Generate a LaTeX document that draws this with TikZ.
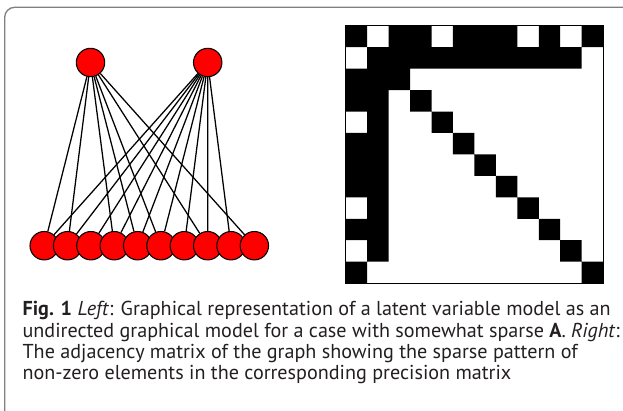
\documentclass[tikz,border=0pt]{standalone}
\usepackage{fontspec}
\setmainfont{PT Sans}
\usetikzlibrary{backgrounds}
\definecolor{frame}{RGB}{128,128,128}
\definecolor{captext}{RGB}{35,31,32}
\begin{document}
\begin{tikzpicture}[x=0.75pt,y=-0.75pt,
  vnode/.style={circle,draw=black,fill=red,line width=0.8pt,minimum size=21.3pt,inner sep=0pt},
  edge/.style={line width=0.95pt,black},
  capline/.style={anchor=base west,inner sep=0pt,text=captext,font=\fontsize{15.1}{16}\selectfont}]
\useasboundingbox (0,0) rectangle (623,410);
\clip (0,0) rectangle (623,410);
\draw[frame,line width=1pt,rounded corners=7.5pt] (4.7,7.3) rectangle (640,430);
% graph
\node[vnode] (t1) at (90.5,62.5) {};
\node[vnode] (t2) at (207.7,62.5) {};
\foreach \i in {1,...,10} \node[vnode] (b\i) at ({44.2+23.35*(\i-1)},245.7) {};
\begin{scope}[on background layer]
\foreach \i in {1,2,4,5,6,8,10} \draw[edge] (t1) -- (b\i);
\foreach \i in {1,...,9} \draw[edge] (t2) -- (b\i);
\end{scope}
% adjacency matrix
\def\cs{21.45}
\begin{scope}[shift={(345.7,25.7)}]
\fill[black]
  \foreach \c/\r/\w/\h in {0/0/1/1, 2/0/2/1, 5/0/3/1, 9/0/1/1, 11/0/1/1,
                           1/1/10/1,
                           0/2/1/2, 0/5/1/3, 0/9/1/1, 0/11/1/1,
                           1/2/1/9,
                           2/2/1/1, 3/3/1/1, 4/4/1/1, 5/5/1/1, 6/6/1/1,
                           7/7/1/1, 8/8/1/1, 9/9/1/1, 10/10/1/1, 11/11/1/1}
  {({\c*\cs},{\r*\cs}) rectangle ({(\c+\w)*\cs},{(\r+\h)*\cs})};
\draw[black,line width=0.8pt] (0,0) rectangle ({12*\cs},{12*\cs});
\end{scope}
% caption
\node[capline] (c1) at (22.3,315.7) {\textbf{Fig. 1} \textit{Left}: Graphical representation of a latent variable model as an};
\node[capline] (c2) at (22.3,337.0) {undirected graphical model for a case with somewhat sparse \textbf{A}. \textit{Right}:};
\node[capline] (c3) at (22.3,358.3) {The adjacency matrix of the graph showing the sparse pattern of};
\node[capline] (c4) at (22.3,379.6) {non-zero elements in the corresponding precision matrix};
\end{tikzpicture}
\end{document}
